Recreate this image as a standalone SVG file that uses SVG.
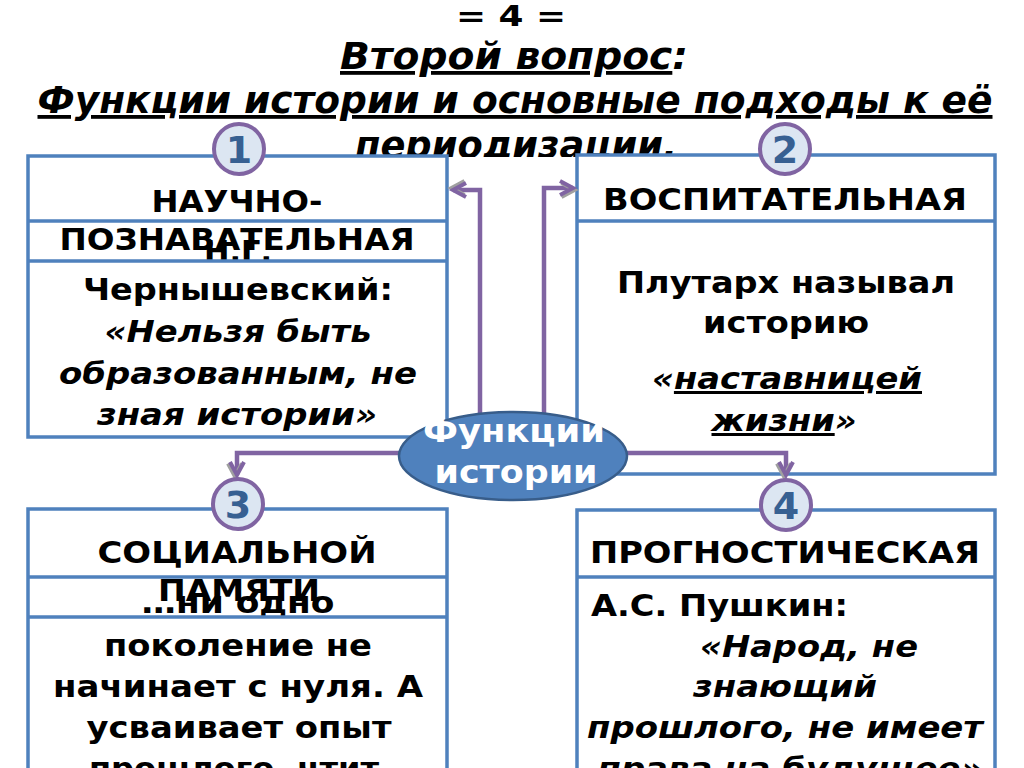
<svg xmlns="http://www.w3.org/2000/svg" width="1024" height="768" viewBox="0 0 1024 768">
<defs>
<style>
.title{font-family:"DejaVu Sans Condensed","DejaVu Sans",sans-serif;font-stretch:condensed;font-weight:bold;fill:#000;text-anchor:middle}
.t{font-family:"DejaVu Sans",sans-serif;font-weight:bold;font-size:30px;fill:#000;text-anchor:middle}
.i{font-style:italic}
.box{fill:#fff;stroke:#4f81bd;stroke-width:3.5}
.sep{stroke:#4f81bd;stroke-width:3.5}
.conn{fill:none;stroke:#8064a2;stroke-width:4.5}
.num{fill:#dce6f2;stroke:#8064a2;stroke-width:4}
.numt{font-family:"DejaVu Sans",sans-serif;font-weight:bold;font-size:38px;fill:#376092;text-anchor:middle}
.ct{font-family:"DejaVu Sans",sans-serif;font-weight:bold;font-size:32px;fill:#fff;text-anchor:middle}
</style>
<marker id="ah" markerUnits="userSpaceOnUse" markerWidth="20" markerHeight="20" refX="14" refY="8" orient="auto" overflow="visible">
<path d="M1,1 L14,8 L1,15" fill="none" stroke="#a0a0a0" stroke-width="4" transform="translate(1.5,2)"/>
<path d="M1,1 L14,8 L1,15" fill="none" stroke="#8064a2" stroke-width="4"/>
</marker>
<clipPath id="tc"><rect x="0" y="0" width="1024" height="157"/></clipPath>
</defs>

<g id="title">
<text class="title" x="511" y="26" font-size="29" textLength="110" lengthAdjust="spacingAndGlyphs">= 4 =</text>
<text class="title i" x="514" y="69" font-size="38" textLength="348" lengthAdjust="spacingAndGlyphs"><tspan text-decoration="underline">Второй вопрос</tspan>:</text>
<text class="title i" x="515" y="113" font-size="38" textLength="955" lengthAdjust="spacingAndGlyphs" text-decoration="underline">Функции  истории и основные подходы к её</text>
<text class="title i" x="516" y="158" font-size="38" textLength="322" lengthAdjust="spacingAndGlyphs" clip-path="url(#tc)"><tspan text-decoration="underline">периодизации</tspan>.</text>
</g>

<g id="node1">
<rect class="box" x="28" y="156" width="419" height="281"/>
<text class="t" x="237" y="212" textLength="171" lengthAdjust="spacingAndGlyphs">НАУЧНО-</text>
<text class="t" x="237" y="250" textLength="355" lengthAdjust="spacingAndGlyphs">ПОЗНАВАТЕЛЬНАЯ</text>
<text class="t" x="238" y="262" textLength="68" lengthAdjust="spacingAndGlyphs">Н.Г.</text>
<line class="sep" x1="28" y1="221" x2="447" y2="221"/>
<line class="sep" x1="28" y1="261" x2="447" y2="261"/>
<text class="t" x="238" y="300" textLength="310" lengthAdjust="spacingAndGlyphs">Чернышевский:</text>
<text class="t i" x="238" y="342" textLength="267" lengthAdjust="spacingAndGlyphs">«Нельзя быть</text>
<text class="t i" x="238" y="384" textLength="358" lengthAdjust="spacingAndGlyphs">образованным, не</text>
<text class="t i" x="237" y="425" textLength="280" lengthAdjust="spacingAndGlyphs">зная истории»</text>
</g>

<g id="node2">
<rect class="box" x="577" y="155" width="418" height="319"/>
<line class="sep" x1="577" y1="221" x2="995" y2="221"/>
<text class="t" x="785" y="210" textLength="364" lengthAdjust="spacingAndGlyphs">ВОСПИТАТЕЛЬНАЯ</text>
<text class="t" x="786" y="293" textLength="338" lengthAdjust="spacingAndGlyphs">Плутарх называл</text>
<text class="t" x="786" y="333" textLength="166" lengthAdjust="spacingAndGlyphs">историю</text>
<text class="t i" x="787" y="389" textLength="270" lengthAdjust="spacingAndGlyphs">«<tspan text-decoration="underline">наставницей</tspan></text>
<text class="t i" x="784" y="431" textLength="145" lengthAdjust="spacingAndGlyphs"><tspan text-decoration="underline">жизни</tspan>»</text>
</g>

<g id="node3">
<rect class="box" x="28" y="509" width="419" height="280"/>
<text class="t" x="237" y="563" textLength="279" lengthAdjust="spacingAndGlyphs">СОЦИАЛЬНОЙ</text>
<text class="t" x="239" y="601" textLength="162" lengthAdjust="spacingAndGlyphs">ПАМЯТИ</text>
<text class="t" x="238" y="613" textLength="193" lengthAdjust="spacingAndGlyphs">…ни одно</text>
<line class="sep" x1="28" y1="577" x2="447" y2="577"/>
<line class="sep" x1="28" y1="617" x2="447" y2="617"/>
<text class="t" x="238" y="656" textLength="268" lengthAdjust="spacingAndGlyphs">поколение не</text>
<text class="t" x="238" y="697" textLength="370" lengthAdjust="spacingAndGlyphs">начинает с нуля. А</text>
<text class="t" x="239" y="738" textLength="305" lengthAdjust="spacingAndGlyphs">усваивает опыт</text>
<text class="t" x="234" y="779" textLength="290" lengthAdjust="spacingAndGlyphs">прошлого, чтит</text>
</g>

<g id="node4">
<rect class="box" x="577" y="510" width="418" height="280"/>
<line class="sep" x1="577" y1="577" x2="995" y2="577"/>
<text class="t" x="785" y="563" textLength="390" lengthAdjust="spacingAndGlyphs">ПРОГНОСТИЧЕСКАЯ</text>
<text class="t" x="591" y="616" style="text-anchor:start" textLength="257" lengthAdjust="spacingAndGlyphs">А.С. Пушкин:</text>
<text class="t i" x="809" y="657" textLength="218" lengthAdjust="spacingAndGlyphs">«Народ, не</text>
<text class="t i" x="785" y="697" textLength="184" lengthAdjust="spacingAndGlyphs">знающий</text>
<text class="t i" x="785" y="738" textLength="396" lengthAdjust="spacingAndGlyphs">прошлого, не имеет</text>
<text class="t i" x="790" y="779" textLength="385" lengthAdjust="spacingAndGlyphs">права на будущее»</text>
</g>

<g id="connectors">
<path class="conn" d="M480,430 V190 H453" marker-end="url(#ah)"/>
<path class="conn" d="M544,430 V188 H573" marker-end="url(#ah)"/>
<path class="conn" d="M410,453 H237 V475" marker-end="url(#ah)"/>
<path class="conn" d="M615,453 H786 V475" marker-end="url(#ah)"/>
</g>

<g id="center">
<ellipse cx="513" cy="456" rx="114" ry="44" fill="#4f81bd" stroke="#385d8a" stroke-width="2.5"/>
<text class="ct" x="514" y="442" textLength="182" lengthAdjust="spacingAndGlyphs">Функции</text>
<text class="ct" x="516" y="483" textLength="163" lengthAdjust="spacingAndGlyphs">истории</text>
</g>

<g id="badge1"><circle class="num" cx="239" cy="149" r="25"/><text class="numt" x="239" y="163">1</text></g>
<g id="badge2"><circle class="num" cx="785" cy="149" r="25"/><text class="numt" x="785" y="163">2</text></g>
<g id="badge3"><circle class="num" cx="238" cy="504" r="25"/><text class="numt" x="238" y="518">3</text></g>
<g id="badge4"><circle class="num" cx="786" cy="505" r="25"/><text class="numt" x="786" y="519">4</text></g>
</svg>
